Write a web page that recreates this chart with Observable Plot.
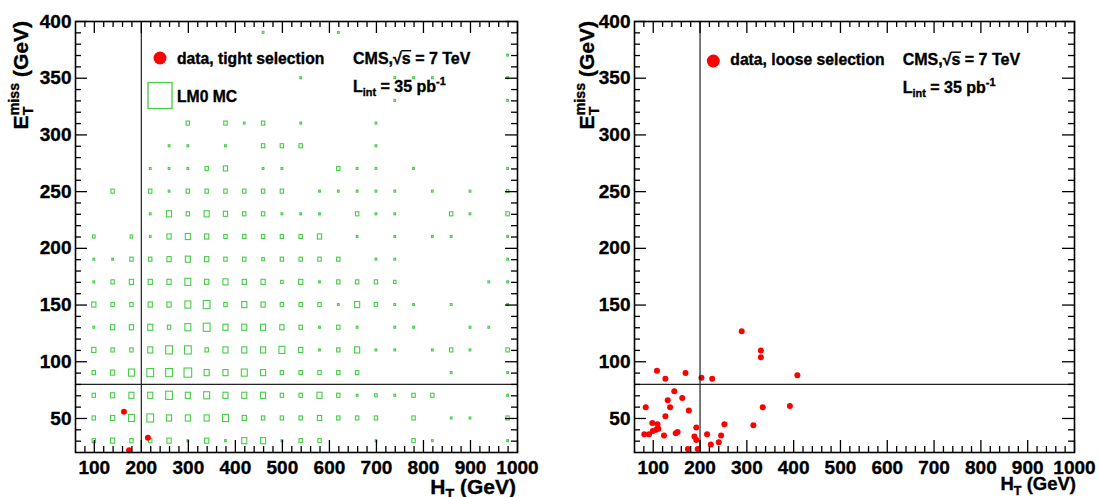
<!DOCTYPE html>
<html><head><meta charset="utf-8">
<script src="https://cdn.jsdelivr.net/npm/d3@7"></script>
<script src="https://cdn.jsdelivr.net/npm/@observablehq/plot@0.6"></script>
<style>
body{margin:0;background:#fff;}
#wrap{display:flex;width:1099px;height:497px;overflow:hidden;}
#wrap svg{display:block;flex:none;}
#wrap svg text{stroke:black;stroke-width:0.35px;}
#wrap svg g[aria-label="x-axis tick label"], #wrap svg g[aria-label="y-axis tick label"],
#wrap svg g[aria-label="x-axis tick label"] text, #wrap svg g[aria-label="y-axis tick label"] text{
  font-size:19px !important; font-weight:bold !important; font-family:'Liberation Sans', Arial, sans-serif !important;
}
</style></head><body><div id="wrap"></div>
<script>
// ---------------- data ----------------
const htBins = [100,140,180,220,260,300,340,380,420,460,500,540,580,620,660,700,740,780,820,860,900,940,980];
const metBins = [390,370,350,330,310,290,270,250,230,210,190,170,150,130,110,90,70,50,30];
// LM0 MC bin contents (arbitrary units), rows = metBins, columns = htBins
const lm0Content = [
  [0,0,0,0,0,0,0,0,0,1,0,0,0,1,0,0,0,0,0,0,0,0,0],
  [0,0,0,0,0,0,0,0,0,0,0,0,0,0,0,0,0,0,0,0,0,0,1],
  [0,0,0,0,0,0,0,0,0,0,0,1,0,0,0,0,1,1,1,0,0,0,1],
  [0,0,0,0,0,0,0,0,0,0,0,0,0,0,0,0,1,0,0,0,0,0,1],
  [0,0,0,0,0,2,0,2,1,2,0,1,0,0,0,1,0,0,0,0,0,0,0],
  [0,0,0,0,1,1,0,1,0,2,2,2,0,0,0,1,0,0,0,0,0,0,0],
  [0,0,0,1,1,1,2,2.5,0,1,1,0,0,2,1,1,0,1,0,0,0,0,1],
  [0,2,0,2,1,2,2,2,2,2,2,0,1,1,1,1,1,0,1,0,1,0,1.5],
  [0,0,0,1,3,2,3,2.5,2,2,1,1,1,0,2,1,1,0,0,2,1,0,2],
  [1.5,0,1.5,1,2.5,3,2.5,2,2,2,2,2,2.5,0,1,0,1,0,1,1,0,0,1],
  [1,1,2,2,2.5,3,2.5,2,2,1.5,2,2,2,2,0,1,1,0,0,0,0,0,1],
  [1,2,2.5,2.5,2.5,3.5,2.5,3,2.5,2.5,1.5,2.5,1,2,2,2,1.5,0,0,0,0,1,1],
  [2.5,2,2,2.5,2.5,3.5,4,2,3,2.5,2,2,2,1,3,2,1,1,0,1,0,0,1],
  [1,2.5,2.5,3,2,3.5,4,3,3,3,2.5,2,1,2,1,0,1,1,0,0,1,1,0],
  [2.5,2,2,3,4,4,2,3,3,3,3.5,2.5,1,2,3,1,1,0,1,2,1,0,2],
  [2,2.5,3.5,4,4,4.5,3,3,3.5,3,2,2,2,2,2,0,0,0,0,1,0,0,1],
  [2,2.5,3,3,4,3,3.5,3,3,3,2,2,3,2,1,1.5,1,2,2,0,0,0,1],
  [2,2.5,3.5,4,3,3,3,3.5,2.5,2,2,2,2.5,2,2,2,0,2,0,1,1,0,2],
  [2,2.5,2,2,2.5,1,2.5,1,3,3,1,2,2,0,0,1,0,2,1,0,0,0,1]
];
// data, tight selection
const tightHT  = [163, 214, 174];
const tightMET = [56, 33, 22];
// data, loose selection
const looseHT  = [81,84,91,98,99,106,109,111,108,123,126,126,131,136,145,148,152,162,169,174,176,188,192,192,195,203,215,223,226,240,245,252,289,314,330,330,334,392,408];
const looseMET = [36,60,36,46,39,40,45,41,92,35,85,52,66,60,74,37,38,68,90,23,57,34,42,31,23,86,36,27,85,29,35,45,127,44,110,104,60,61,88];
// axis ticks
const xTicks = [100,200,300,400,500,600,700,800,900,1000];
const yTicks = [50,100,150,200,250,300,350,400];
const xMinor = d3.range(80, 1000, 20).filter(v => v % 100 !== 0);
const yMinor = d3.range(30, 400, 10).filter(v => v % 50 !== 0);
const htCut = 200, metCut = 80;

// ---------------- styling ----------------
const FONT = "'Liberation Sans', Arial, Helvetica, sans-serif";
const GREEN = "#47cc47";
const H = 497;

function panel({width, ml, mr, mt, mb, marks}) {
  const iw = width - ml - mr, ih = H - mt - mb;
  const tk = {stroke: "black", strokeWidth: 1.3};
  return Plot.plot({
    width, height: H, marginLeft: ml, marginRight: mr, marginTop: mt, marginBottom: mb,
    x: {domain: [60, 1000]},
    y: {domain: [20, 400]},
    style: {fontFamily: FONT, fontSize: "19px", fontWeight: "bold", color: "black", background: "white", overflow: "visible"},
    marks: [
      ...marks,
      Plot.ruleX([htCut], {stroke: "#222", strokeWidth: 1.2}),
      Plot.ruleY([metCut], {stroke: "#222", strokeWidth: 1.2}),
      Plot.ruleX(xTicks, {...tk, insetTop: ih - 12}),
      Plot.ruleX(xTicks, {...tk, insetBottom: ih - 12}),
      Plot.ruleX(xMinor, {...tk, insetTop: ih - 6}),
      Plot.ruleX(xMinor, {...tk, insetBottom: ih - 6}),
      Plot.ruleY(yTicks, {...tk, insetRight: iw - 12}),
      Plot.ruleY(yTicks, {...tk, insetLeft: iw - 12}),
      Plot.ruleY(yMinor, {...tk, insetRight: iw - 6}),
      Plot.ruleY(yMinor, {...tk, insetLeft: iw - 6}),
      Plot.frame({stroke: "black", strokeWidth: 1.6}),
      Plot.axisX({ticks: xTicks, tickSize: 0, tickPadding: 8, label: null, tickFormat: d => String(d)}),
      Plot.axisY({ticks: yTicks, tickSize: 0, tickPadding: 4, label: null, tickFormat: d => String(d)})
    ]
  });
}

// rich text with sub/superscripts
function rich(svg, x, y, size, segs, {anchor = "start", rotate = false} = {}) {
  const t = d3.select(svg).append("text")
    .attr("font-family", FONT).attr("font-weight", "bold").attr("font-size", size)
    .attr("fill", "black").attr("text-anchor", anchor);
  if (rotate) t.attr("transform", `translate(${x},${y}) rotate(-90)`);
  else t.attr("x", x).attr("y", y);
  let cur = 0, pendingDx = 0;
  const small = size * 0.68, supOff = -size * 0.42, subOff = size * 0.26;
  const span = (text, fs, target) => {
    const s = t.append("tspan").attr("font-size", fs).attr("dy", target - cur).text(text);
    if (pendingDx) { s.attr("dx", pendingDx); pendingDx = 0; }
    cur = target; return s;
  };
  const bars = [];
  for (const seg of segs) {
    if (seg.t != null) { const s = span(seg.t, size, 0); if (seg.bar) bars.push(s); }
    else {
      let wa = 0, wb = 0;
      if (seg.sup) { const a = span(seg.sup, small, supOff); wa = a.node().getComputedTextLength(); }
      if (seg.sub) {
        if (seg.sup) pendingDx = -wa;
        const b = span(seg.sub, small, subOff); wb = b.node().getComputedTextLength();
        if (seg.sup) pendingDx = Math.max(wa, wb) - wb;
      }
    }
  }
  for (const s of bars) {
    const n = s.node();
    const p0 = n.getStartPositionOfChar(0), p1 = n.getEndPositionOfChar(n.getNumberOfChars() - 1);
    d3.select(svg).append("line").attr("x1", p0.x - 0.5).attr("x2", p1.x + 0.5)
      .attr("y1", p0.y - size * 0.8).attr("y2", p0.y - size * 0.8)
      .attr("stroke", "black").attr("stroke-width", 1.4);
  }
  return t;
}

// ---------------- panels ----------------
const cells = [];
metBins.forEach((met, i) => htBins.forEach((ht, j) => {
  const c = lm0Content[i][j];
  if (c > 0) cells.push({ht, met, c});
}));
const boxFrac = 0.09; // box side as fraction of bin size per content unit
const tight = tightHT.map((x, i) => ({x, y: tightMET[i]}));
const loose = looseHT.map((x, i) => ({x, y: looseMET[i]}));

const left = panel({
  width: 550, ml: 75, mr: 33, mt: 21, mb: 45,
  marks: [
    Plot.rect(cells, {
      x1: d => d.ht - 20 * boxFrac * d.c, x2: d => d.ht + 20 * boxFrac * d.c,
      y1: d => d.met - 10 * boxFrac * d.c, y2: d => d.met + 10 * boxFrac * d.c,
      stroke: GREEN, fill: "none", strokeWidth: 1.1
    }),
    Plot.dot(tight, {x: "x", y: "y", r: 3, fill: "#ff0000", stroke: "none"})
  ]
});
const right = panel({
  width: 549, ml: 84, mr: 25, mt: 21, mb: 45,
  marks: [
    Plot.dot(loose, {x: "x", y: "y", r: 3, fill: "#ff0000", stroke: "none"})
  ]
});
const wrap = document.getElementById("wrap");
wrap.appendChild(left);
wrap.appendChild(right);

// ---------------- annotations ----------------
// left
d3.select(left).append("circle").attr("cx", 160).attr("cy", 58).attr("r", 6.5).attr("fill", "#ff0000");
rich(left, 177, 63.5, 15.7, [{t: "data, tight selection"}]);
d3.select(left).append("rect").attr("x", 148).attr("y", 82.5).attr("width", 24).attr("height", 26)
  .attr("fill", "none").attr("stroke", GREEN).attr("stroke-width", 1.3);
rich(left, 177, 101.5, 15.7, [{t: "LM0 MC"}]);
rich(left, 353, 63.5, 16, [{t: "CMS,√"}, {t: "s", bar: true}, {t: " = 7 TeV"}]);
rich(left, 353, 92, 16, [{t: "L"}, {sub: "int"}, {t: " = 35 pb"}, {sup: "-1"}]);
rich(left, 516, 494, 21, [{t: "H"}, {sub: "T"}, {t: " (GeV)"}], {anchor: "end"});
rich(left, 28, 21, 21, [{t: "E"}, {sup: "miss", sub: "T"}, {t: " (GeV)"}], {anchor: "end", rotate: true});
// right
d3.select(right).append("circle").attr("cx", 163.3).attr("cy", 61).attr("r", 6.5).attr("fill", "#ff0000");
rich(right, 180.3, 65, 15.7, [{t: "data, loose selection"}]);
rich(right, 352.7, 65, 16, [{t: "CMS,√"}, {t: "s", bar: true}, {t: " = 7 TeV"}]);
rich(right, 352.7, 93, 16, [{t: "L"}, {sub: "int"}, {t: " = 35 pb"}, {sup: "-1"}]);
rich(right, 526, 490, 18.5, [{t: "H"}, {sub: "T"}, {t: " (GeV)"}], {anchor: "end"});
rich(right, 44, 21, 21, [{t: "E"}, {sup: "miss", sub: "T"}, {t: " (GeV)"}], {anchor: "end", rotate: true});
</script></body></html>
